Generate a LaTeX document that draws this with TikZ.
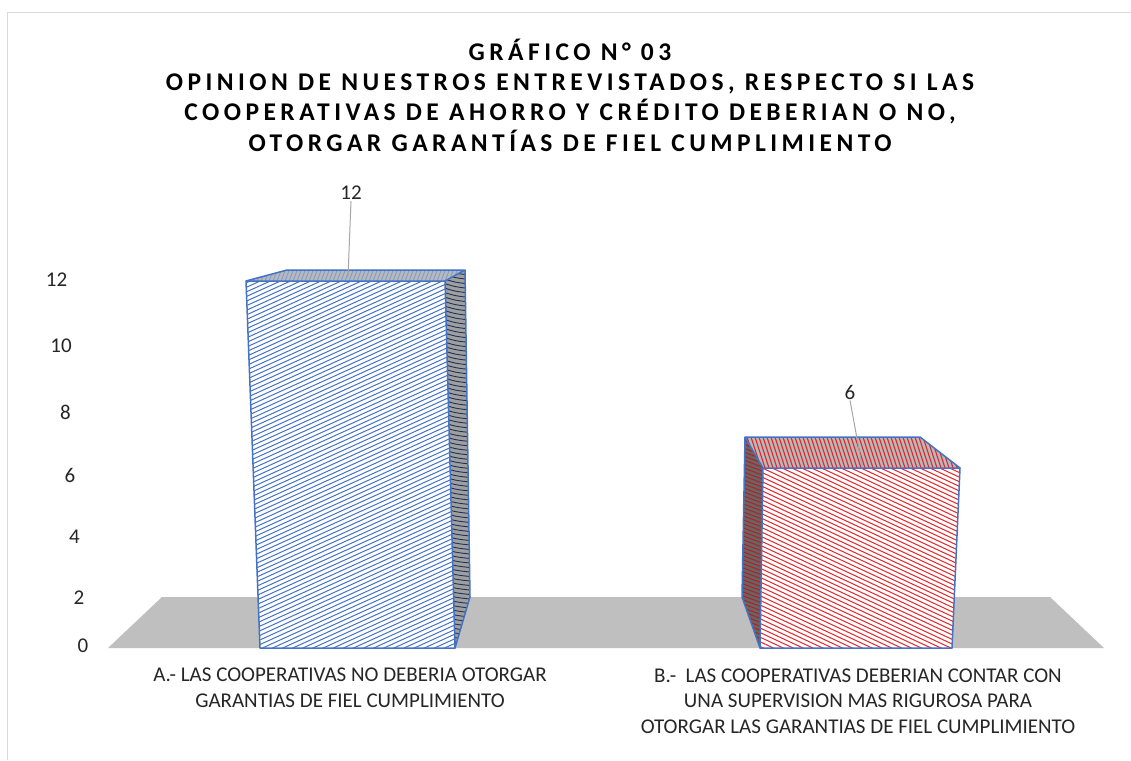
\documentclass[tikz,border=0pt]{standalone}
\usepackage{fontspec}
\setmainfont{Carlito}
\newfontfamily\titlefont[LetterSpace=17.5]{Carlito}
\definecolor{barblue}{HTML}{4472C4}
\definecolor{hatchred}{HTML}{E3262B}
\definecolor{floorgrey}{HTML}{BFBFBF}
\definecolor{framegrey}{HTML}{D9D9D9}
\definecolor{txt}{HTML}{262626}
\tikzset{
  ticklbl/.style={font=\fontsize{21}{23}\selectfont, text=txt, inner sep=0pt},
  catlbl/.style={align=center, font=\fontsize{21}{25.5}\selectfont, text=txt, inner sep=0pt},
  datalbl/.style={font=\fontsize{21}{23}\selectfont, text=txt, inner sep=1pt},
  titlelbl/.style={align=center, font=\titlefont\bfseries\fontsize{25.5}{30.3}\selectfont, text=black, inner sep=0pt},
  baredge/.style={draw=barblue, line width=1.5pt, line join=round},
  leader/.style={draw=gray!70, line width=1pt}
}
\begin{document}
\begin{tikzpicture}[x=1pt,y=-1pt]
\useasboundingbox (0,0) rectangle (1131,760);
\fill[white] (0,0) rectangle (1131,760);
% frame
\draw[framegrey, line width=1.5pt] (7.5,760) -- (7.5,12.5) -- (1131,12.5);
% title
\node[titlelbl] (title) at (570,95) {GRÁFICO N° 03\\OPINION DE NUESTROS ENTREVISTADOS, RESPECTO SI LAS\\COOPERATIVAS DE AHORRO Y CRÉDITO DEBERIAN O NO,\\OTORGAR GARANTÍAS DE FIEL CUMPLIMIENTO};
% floor
\fill[floorgrey] (108,648) -- (1104,648) -- (1050,597) -- (162,597) -- cycle;
% axis labels
\node[ticklbl] (t0) at (83,646) {0};
\node[ticklbl] (t2) at (79,598) {2};
\node[ticklbl] (t4) at (74.5,537) {4};
\node[ticklbl] (t6) at (70,475) {6};
\node[ticklbl] (t8) at (65.5,412) {8};
\node[ticklbl] (t10) at (61,346) {10};
\node[ticklbl] (t12) at (56.5,280) {12};
% ---- bar A ----
\begin{scope}
\clip (445,281) -- (465,270) -- (470,597) -- (455,648) -- cycle;
\fill[gray!75] (440,260) rectangle (475,650);
\foreach \k in {0,...,90} {
  \draw[barblue!45!black, line width=0.9pt] (440,255+\k*4.5) .. controls (455,260+\k*4.5) .. (475,262+\k*4.5);
}
\end{scope}
\begin{scope}
\clip (246,281) -- (287,270) -- (465,270) -- (445,281) -- cycle;
\fill[gray!55] (240,265) rectangle (470,285);
\foreach \k in {0,...,60} {
  \draw[barblue!70!white, line width=0.9pt] (240+\k*4,284) -- ++(6,-16);
}
\end{scope}
\begin{scope}
\clip (246,281) -- (445,281) -- (455,648) -- (260,648) -- cycle;
\fill[white] (240,275) rectangle (460,650);
\foreach \k in {0,...,100} {
  \draw[barblue, line width=1pt] (240,281+\k*4.6) -- (460,281+\k*4.6-100);
}
\end{scope}
\draw[baredge] (246,281) -- (445,281) -- (455,648) -- (260,648) -- cycle;
\draw[baredge] (246,281) -- (287,270) -- (465,270) -- (445,281);
\draw[baredge] (465,270) -- (470,597) -- (455,648);
% ---- bar B ----
\begin{scope}
\clip (763,468) -- (745,437) -- (742,597) -- (760,648) -- cycle;
\fill[gray!80!black] (738,430) rectangle (765,650);
\foreach \k in {0,...,60} {
  \draw[hatchred!80!black, line width=1pt] (738,430+\k*4) -- ++(27,10);
}
\end{scope}
\begin{scope}
\clip (763,468) -- (745,437) -- (920,437) -- (960,468) -- cycle;
\fill[gray!55] (740,435) rectangle (965,470);
\foreach \k in {0,...,60} {
  \draw[hatchred, line width=1.1pt] (735+\k*4,437) -- ++(10,31);
}
\end{scope}
\begin{scope}
\clip (763,468) -- (960,468) -- (952,648) -- (760,648) -- cycle;
\fill[white] (755,465) rectangle (965,650);
\foreach \k in {0,...,75} {
  \draw[hatchred, line width=1pt] (755,368+\k*4.6) -- (965,368+\k*4.6+98);
}
\end{scope}
\draw[baredge] (763,468) -- (960,468) -- (952,648) -- (760,648) -- cycle;
\draw[baredge] (763,468) -- (745,437) -- (920,437) -- (960,468);
\draw[baredge] (745,437) -- (742,597) -- (760,648);
% data labels
\node[datalbl] (d12) at (351,193) {12};
\coordinate (d12end) at (348,277);
\draw[leader] (d12.south) -- (d12end);
\node[datalbl] (d6) at (850,392) {6};
\coordinate (d6end) at (862,466);
\draw[leader] (d6.south) -- (d6end);
% categories
\node[catlbl] (catA) at (350,688) {A.- LAS COOPERATIVAS NO DEBERIA OTORGAR\\GARANTIAS DE FIEL CUMPLIMIENTO};
\node[catlbl] (catB) at (858,701) {B.-\ \ LAS COOPERATIVAS DEBERIAN CONTAR CON\\UNA SUPERVISION MAS RIGUROSA PARA\\OTORGAR LAS GARANTIAS DE FIEL CUMPLIMIENTO};
\end{tikzpicture}
\end{document}
